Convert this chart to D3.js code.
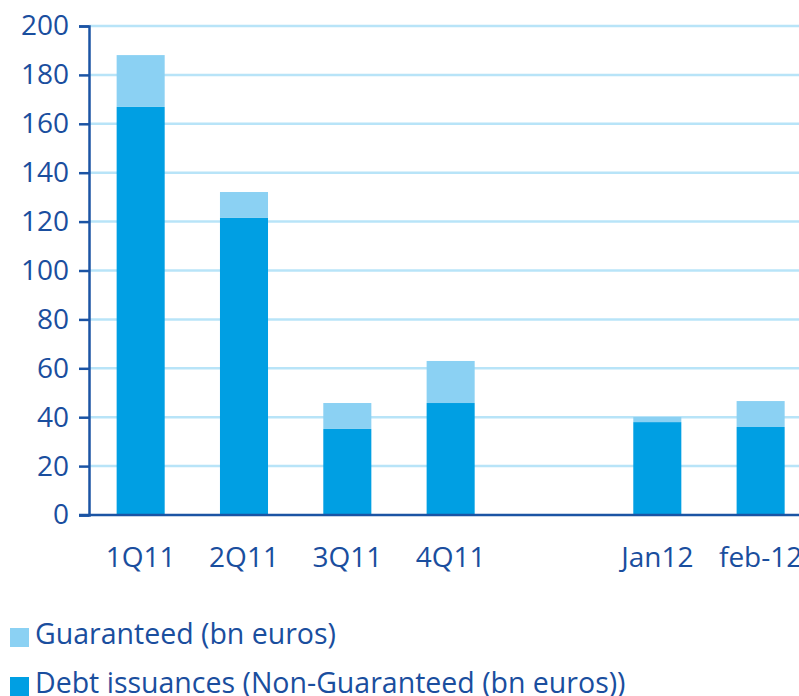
<!DOCTYPE html>
<html lang="en">
<head>
<meta charset="UTF-8">
<title>Debt issuances</title>
<script src="https://cdnjs.cloudflare.com/ajax/libs/d3/7.8.5/d3.min.js"></script>
<style>
  body { margin: 0; background: #fff; }
  svg { display: block; font-family: "Open Sans", sans-serif; }
</style>
</head>
<body>
<div id="chart"></div>
<script>
var categories = ['1Q11', '2Q11', '3Q11', '4Q11', '', 'Jan12', 'feb-12'];
var nonGuaranteed = [166.9, 121.5, 35.2, 45.8, 0, 38.0, 36.0];
var guaranteed = [21.2, 10.6, 10.6, 17.2, 0, 2.1, 10.6];
var yTicks = [0, 20, 40, 60, 80, 100, 120, 140, 160, 180, 200];
var seriesNames = ['Guaranteed (bn euros)', 'Debt issuances (Non-Guaranteed (bn euros))'];

var WIDTH = 799, HEIGHT = 696;
var DARK = '#009fe3', LIGHT = '#8bd1f3', GRID = '#b8e4f8', AXIS = '#1b54a4', TEXT = '#1a4e9e';

var svg = d3.select('#chart').append('svg')
    .attr('width', WIDTH)
    .attr('height', HEIGHT);

var x = d3.scaleBand()
    .domain(d3.range(categories.length))
    .range([89, 812.3])
    .paddingInner(0.535)
    .paddingOuter(0.2675);

var y = d3.scaleLinear().domain([0, 200]).range([515, 26]);

// gridlines
svg.append('g').selectAll('line')
    .data(yTicks.slice(1))
    .join('line')
    .attr('x1', 89).attr('x2', WIDTH)
    .attr('y1', function (d) { return y(d); })
    .attr('y2', function (d) { return y(d); })
    .attr('stroke', GRID).attr('stroke-width', 2.5);

// bars
var bars = svg.append('g');
categories.forEach(function (c, i) {
    if (!c) return;
    bars.append('rect')
        .attr('x', x(i)).attr('width', x.bandwidth())
        .attr('y', y(nonGuaranteed[i]))
        .attr('height', y(0) - y(nonGuaranteed[i]))
        .attr('fill', DARK);
    bars.append('rect')
        .attr('x', x(i)).attr('width', x.bandwidth())
        .attr('y', y(nonGuaranteed[i] + guaranteed[i]))
        .attr('height', y(nonGuaranteed[i]) - y(nonGuaranteed[i] + guaranteed[i]))
        .attr('fill', LIGHT);
});

// y axis
var yAxis = svg.append('g')
    .attr('transform', 'translate(89,0)')
    .call(d3.axisLeft(y).tickValues(yTicks).tickSize(10).tickPadding(10));
yAxis.select('.domain').attr('stroke', AXIS).attr('stroke-width', 2.5);
yAxis.selectAll('.tick line').attr('stroke', AXIS).attr('stroke-width', 2.5);
yAxis.selectAll('.tick text')
    .attr('fill', TEXT)
    .style('font-size', '28px')
    .style('font-family', '"Open Sans", sans-serif');

// x axis
var xAxis = svg.append('g')
    .attr('transform', 'translate(0,515)')
    .call(d3.axisBottom(x).tickFormat(function (i) { return categories[i]; }).tickSize(0).tickPadding(32));
xAxis.select('.domain').remove();
xAxis.append('line')
    .attr('x1', 79).attr('x2', WIDTH)
    .attr('stroke', AXIS).attr('stroke-width', 2.5);
xAxis.selectAll('.tick text')
    .attr('fill', TEXT)
    .style('font-size', '28px')
    .style('font-family', '"Open Sans", sans-serif');

// legend
var legend = svg.append('g');
[LIGHT, DARK].forEach(function (col, i) {
    var base = 644 + i * 49;
    legend.append('rect')
        .attr('x', 10).attr('y', base - 16)
        .attr('width', 19).attr('height', 19)
        .attr('fill', col);
    legend.append('text')
        .attr('x', 35).attr('y', base)
        .attr('fill', TEXT)
        .style('font-size', '28.5px')
        .text(seriesNames[i]);
});
</script>
</body>
</html>
